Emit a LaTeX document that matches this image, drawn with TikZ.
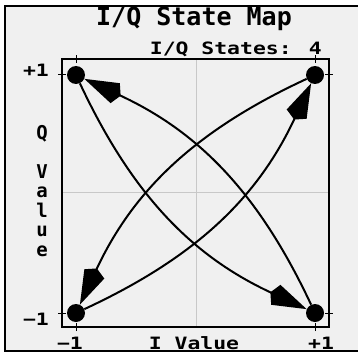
\documentclass[tikz,border=0pt]{standalone}
\usepackage{fontspec}
\usetikzlibrary{arrows.meta}
\newfontfamily\lcdsmall[FakeStretch=1.26]{DejaVu Sans Mono}
\newfontfamily\lcdtall{DejaVu Sans Mono}
\definecolor{ScreenGray}{RGB}{240,240,240}
\definecolor{GridGray}{RGB}{200,200,200}

\begin{document}
\begin{tikzpicture}[x=1pt,y=1pt,
    lbl/.style={font=\lcdsmall\bfseries\fontsize{17}{19.5}\selectfont,inner sep=0pt},
    dot/.style={circle,fill=black,minimum size=18pt,inner sep=0pt},
    trans/.style={line width=2pt,-{Kite[length=40pt,width=22pt,inset=6pt]}}]
  \useasboundingbox (0,0) rectangle (358,354);
  \draw[line width=2pt,fill=ScreenGray] (5,3) rectangle (364,348);
  % grid and frame of the map
  \draw[GridGray,line width=1pt] (196,27) -- (196,295) (62,162) -- (329,162);
  \draw[line width=1.2pt] (62,27) rectangle (329,295);
  \foreach \p in {76,315}{
    \draw[line width=1pt] (\p,23) -- (\p,31) (\p,291) -- (\p,299);
  }
  \foreach \p in {41,279}{
    \draw[line width=1pt] (58,\p) -- (66,\p) (325,\p) -- (333,\p);
  }
  % texts
  \node[font=\lcdtall\bfseries\fontsize{25}{26}\selectfont,inner sep=0pt,anchor=base] (title) at (194,328) {I/Q State Map};
  \node[lbl,anchor=base east] (nstates) at (322,299) {I/Q States: 4};
  \node[lbl,anchor=base] (ypos) at (36,277) {+1};
  \node[lbl,anchor=base] (yneg) at (36,29) {−1};
  \node[lbl,anchor=base] (xneg) at (70,5) {−1};
  \node[lbl,anchor=base] (xpos) at (321,5) {+1};
  \node[lbl,anchor=base] (xname) at (194,5) {I Value};
  \node[lbl,font=\lcdtall\bfseries\fontsize{19}{19.5}\selectfont,align=center,anchor=north] (yname) at (42,229) {Q\\[19.5pt]V\\a\\l\\u\\e};
  % states
  \node[dot] (sTL) at (76,279) {};
  \node[dot] (sTR) at (315,279) {};
  \node[dot] (sBL) at (76,41) {};
  \node[dot] (sBR) at (315,41) {};
  % transitions
  \draw[trans] (sBR) to[bend right=20] (sTL);
  \draw[trans] (sTL) to[bend right=20] (sBR);
  \draw[trans] (sTR) to[bend right=20] (sBL);
  \draw[trans] (sBL) to[bend right=20] (sTR);
\end{tikzpicture}
\end{document}
